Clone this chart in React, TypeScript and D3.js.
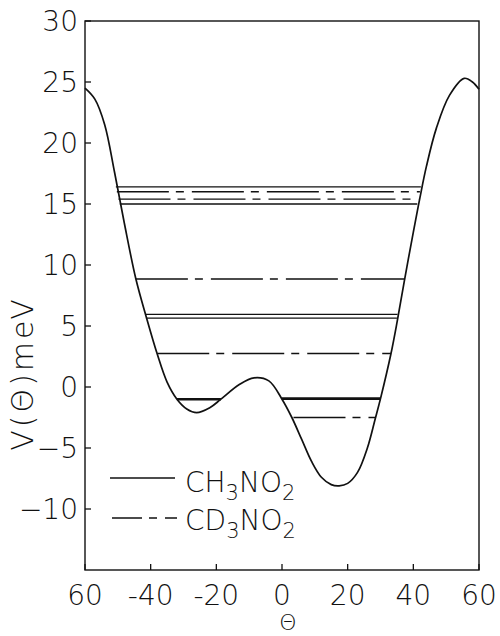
import * as d3 from "d3";

// potential curve V(theta)
const theta = [-60, -57, -54, -51, -48, -44.5, -41.3, -38, -35, -32, -29, -26, -22, -18.6, -13, -8.5, -4, 0, 3, 6, 9, 12, 15, 17.4, 20, 23, 26, 28.4, 30, 33.2, 35.1, 37.2, 40, 42, 44, 47, 51, 55.5, 58, 60];
const potential = [24.5, 23.6, 21.5, 17.6, 13.4, 8.85, 5.7, 2.7, 0.4, -1.0, -1.8, -2.1, -1.7, -1.0, 0.2, 0.75, 0.5, -1.0, -2.5, -4.3, -6.1, -7.4, -8.0, -8.1, -7.9, -7.0, -5.0, -2.6, -0.95, 2.75, 5.4, 8.6, 12.7, 15.5, 18.1, 21.2, 23.9, 25.3, 25.0, 24.4];

// torsional levels: energy, theta start, theta end
const ch3Levels = [16.4, 15.0, 5.95, 5.65, -1.0, -0.95];
const ch3From = [-50.6, -49.4, -41.5, -41.2, -32, 0];
const ch3To = [42.3, 41.2, 35.2, 35.0, -18.6, 30];
const ch3Thick = [false, false, false, false, true, true];

const cd3Levels = [16.0, 15.4, 8.85, 2.75, -2.5];
const cd3From = [-50.3, -49.8, -44.5, -38, 3.5];
const cd3To = [42.0, 41.6, 37.2, 33.2, 28.4];

const xTicks = [-60, -40, -20, 0, 20, 40, 60];
const xTickLabels = ["60", "-40", "-20", "0", "20", "40", "60"];
const yTicks = [-10, -5, 0, 5, 10, 15, 20, 25, 30];

const width = 500;
const height = 636;
const marginLeft = 85;
const marginRight = 21;
const marginTop = 21;
const marginBottom = 66;
const font = "'DejaVu Sans', sans-serif";
const weight = 200;
const dash = "52 7 8 8";

export default function App() {
  const x = d3.scaleLinear([-60, 60], [marginLeft, width - marginRight]);
  const y = d3.scaleLinear([-15, 30], [height - marginBottom, marginTop]);

  const line = d3
    .line<number>()
    .x((d, i) => x(theta[i]))
    .y((d) => y(d))
    .curve(d3.curveCatmullRom.alpha(0.5));

  const x0 = x(-60);
  const x1 = x(60);
  const y0 = y(-15);
  const y1 = y(30);

  return (
    <svg
      width={width}
      height={height}
      style={{ position: "absolute", left: 0, top: 0, background: "#fff" }}
      fontFamily={font}
    >
      <rect x={x0} y={y1} width={x1 - x0} height={y0 - y1} fill="none" stroke="#111" strokeWidth={1.4} />

      {yTicks.map((t) => (
        <g key={t}>
          <line x1={x0} x2={x0 + 6} y1={y(t)} y2={y(t)} stroke="#111" strokeWidth={1.3} />
          <text x={x0 - 7} y={y(t)} dy="0.36em" textAnchor="end" fontSize={28} fontWeight={weight} fill="#111">
            {t < 0 ? "\u2212" + Math.abs(t) : t}
          </text>
        </g>
      ))}

      {xTicks.map((t, i) => (
        <g key={t}>
          <line x1={x(t)} x2={x(t)} y1={y0} y2={y0 - 6} stroke="#111" strokeWidth={1.3} />
          <text x={x(t)} y={y0 + 35} textAnchor="middle" fontSize={28} fontWeight={weight} fill="#111">
            {xTickLabels[i]}
          </text>
        </g>
      ))}

      <text x={x(0) + 6} y={y0 + 60} textAnchor="middle" fontSize={22} fontWeight={weight} fill="#111">
        Θ
      </text>
      <text
        transform={`translate(33,${(y(30) + y(-15)) / 2 + 78}) rotate(-90)`}
        textAnchor="middle"
        fontSize={30}
        letterSpacing={3}
        fontWeight={weight}
        fill="#111"
      >
        V(Θ)meV
      </text>

      {ch3Levels.map((v, i) => (
        <line
          key={"h" + i}
          x1={x(ch3From[i])}
          x2={x(ch3To[i])}
          y1={y(v)}
          y2={y(v)}
          stroke="#111"
          strokeWidth={ch3Thick[i] ? 2.6 : 1.3}
        />
      ))}
      {cd3Levels.map((v, i) => (
        <line
          key={"d" + i}
          x1={x(cd3From[i])}
          x2={x(cd3To[i])}
          y1={y(v)}
          y2={y(v)}
          stroke="#111"
          strokeWidth={1.4}
          strokeDasharray={dash}
        />
      ))}

      <path d={line(potential) ?? ""} fill="none" stroke="#111" strokeWidth={1.7} />

      <g fill="#111" fontWeight={weight}>
        <line x1={110} x2={175} y1={478} y2={478} stroke="#111" strokeWidth={1.3} />
        <text x={185} y={492} fontSize={28}>
          CH<tspan fontSize={21} dy={8}>3</tspan>
          <tspan dy={-8}>NO</tspan>
          <tspan fontSize={21} dy={8}>2</tspan>
        </text>
        <line x1={112} x2={177} y1={518} y2={518} stroke="#111" strokeWidth={1.3} strokeDasharray="30 7 8 8" />
        <text x={185} y={530} fontSize={28}>
          CD<tspan fontSize={21} dy={8}>3</tspan>
          <tspan dy={-8}>NO</tspan>
          <tspan fontSize={21} dy={8}>2</tspan>
        </text>
      </g>
    </svg>
  );
}
